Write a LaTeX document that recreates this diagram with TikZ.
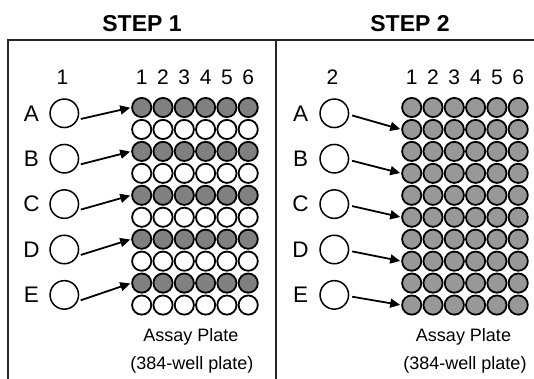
\documentclass[tikz,border=0pt]{standalone}
\usepackage{fontspec}
\setmainfont{Liberation Sans}
\usetikzlibrary{arrows.meta}
\definecolor{wellA}{RGB}{128,128,128}
\definecolor{wellB}{RGB}{152,152,152}
\tikzset{
  frame/.style={line width=1.3pt, black!85},
  titletext/.style={font=\fontsize{23}{25}\selectfont\bfseries, inner sep=0pt},
  lbl/.style={font=\fontsize{21}{23}\selectfont, inner sep=0pt},
  letter/.style={font=\fontsize{22.5}{24}\selectfont, inner sep=0pt},
  captext/.style={font=\fontsize{18}{20}\selectfont, inner sep=0pt},
  well/.style={circle, draw, line width=1.8pt, minimum size=19.2pt, inner sep=0pt},
  src/.style={circle, draw, line width=1.5pt, minimum size=28.5pt, inner sep=0pt, fill=white},
  arr/.style={line width=1.8pt, -{Triangle[length=10pt,width=9pt]}, shorten <=3pt, shorten >=1pt},
}
\begin{document}
\begin{tikzpicture}[x=1pt,y=-1pt]
\useasboundingbox (0,0) rectangle (534,379);
% frame
\coordinate (fTL) at (8,40);
\coordinate (fTR) at (534,40);
\coordinate (fBL) at (8,379);
\coordinate (fMT) at (276,40);
\coordinate (fMB) at (276,379);
\draw[frame] (fBL) -- (fTL) -- (fTR);
\draw[frame] (fMT) -- (fMB);
% titles
\node[titletext] (t1) at (142,24) {STEP 1};
\node[titletext] (t2) at (410,24) {STEP 2};
% source column labels
\node[lbl] (c1) at (62.5,77) {1};
\node[lbl] (c2) at (332.5,77) {2};
% plates
\foreach \c in {1,...,6}{
  \node[lbl] (h1-\c) at ({141.7+21.3*(\c-1)},77) {\c};
  \node[lbl] (h2-\c) at ({411.7+21.3*(\c-1)},77) {\c};
  \foreach \r in {1,...,10}{
    \ifodd\r
      \node[well, fill=wellA] (w1-\r-\c) at ({141.7+21.3*(\c-1)},{107.5+21.95*(\r-1)}) {};
    \else
      \node[well, fill=white] (w1-\r-\c) at ({141.7+21.3*(\c-1)},{107.5+21.95*(\r-1)}) {};
    \fi
    \node[well, fill=wellB] (w2-\r-\c) at ({411.7+21.3*(\c-1)},{107.5+21.95*(\r-1)}) {};
  }
}
% sources and arrows
\foreach \l [count=\i] in {A,B,C,D,E}{
  \pgfmathtruncatemacro\ra{2*\i-1}
  \pgfmathtruncatemacro\rb{2*\i}
  \node[letter] (l1-\l) at (31.5,{113.3+45.4*(\i-1)}) {\l};
  \node[src] (s1-\l) at (64.3,{113.3+45.4*(\i-1)}) {};
  \node[letter] (l2-\l) at (300.5,{113.3+45.4*(\i-1)}) {\l};
  \node[src] (s2-\l) at (334.3,{113.3+45.4*(\i-1)}) {};
  \draw[arr] (s1-\l.-25) -- (w1-\ra-1.west);
  \draw[arr] (s2-\l.-5) -- (w2-\rb-1.west);
}
% captions
\node[captext] (a1) at (191,337) {Assay Plate};
\node[captext] (b1) at (192,364.5) {(384-well plate)};
\node[captext] (a2) at (463.5,337) {Assay Plate};
\node[captext] (b2) at (465,364.5) {(384-well plate)};
\end{tikzpicture}
\end{document}
